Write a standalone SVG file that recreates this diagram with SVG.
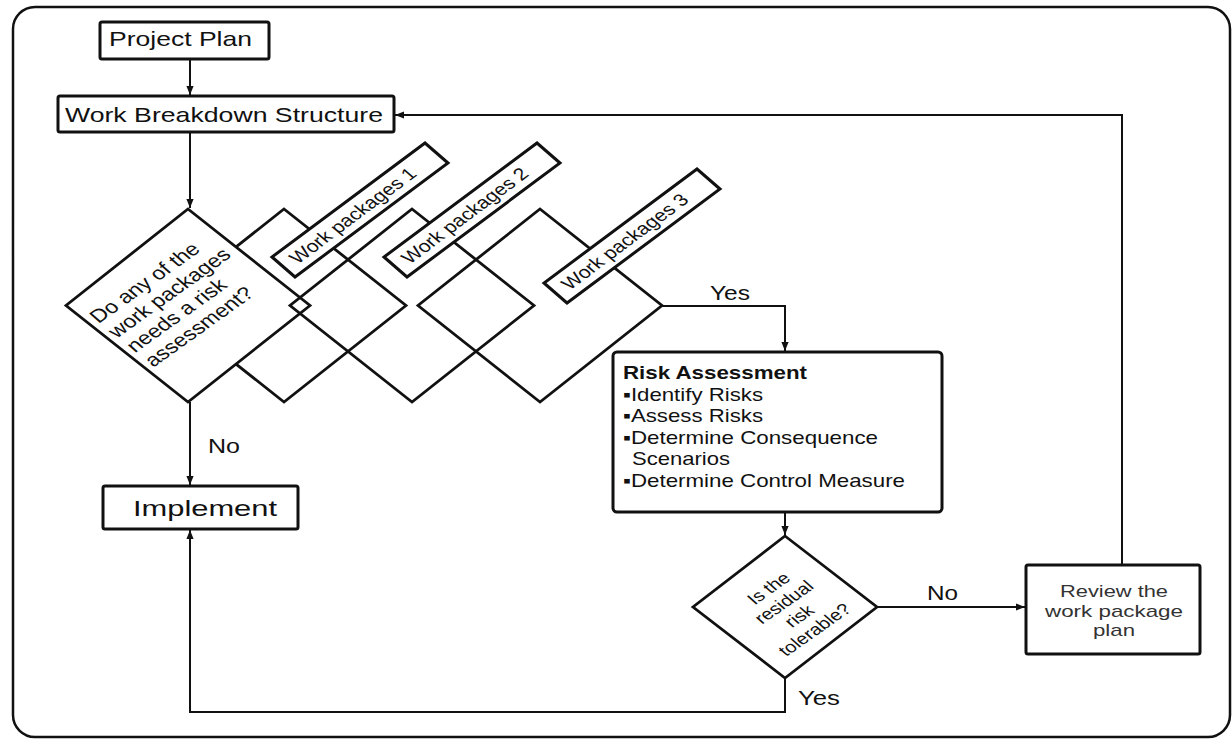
<svg xmlns="http://www.w3.org/2000/svg" width="1232" height="740" viewBox="0 0 1232 740">
<defs>
<style>
.box{fill:#fff;stroke:#111;stroke-width:3}
.dia{fill:#fff;stroke:#111;stroke-width:2.8;stroke-linejoin:miter}
.dia-o{fill:none;stroke:#111;stroke-width:2.8}
.con{fill:none;stroke:#111;stroke-width:2}
.t{font-family:"Liberation Sans",Arial,sans-serif;fill:#111}
.b{font-weight:bold}
.g{fill:#333}
</style>
<marker id="arr" viewBox="0 0 10 10" refX="10" refY="5" markerWidth="9" markerHeight="9" markerUnits="userSpaceOnUse" orient="auto"><path d="M0,1 L10,5 L0,9 z" fill="#111"/></marker>
</defs>
<rect width="1232" height="740" fill="#fff"/>
<rect id="frame" x="13" y="7" width="1217" height="730" rx="22" fill="none" stroke="#111" stroke-width="2.5"/>

<g id="connectors">
<path class="con" d="M190,59 L190,95" marker-end="url(#arr)"/>
<path class="con" d="M190,132 L190,208" marker-end="url(#arr)"/>
<path class="con" d="M190,402 L190,485" marker-end="url(#arr)"/>
<path class="con" d="M662,306 L785,306 L785,351" marker-end="url(#arr)"/>
<path class="con" d="M785,512 L785,535" marker-end="url(#arr)"/>
<path class="con" d="M878,607 L1025,607" marker-end="url(#arr)"/>
<path class="con" d="M785,678 L785,712 L190,712 L190,530" marker-end="url(#arr)"/>
<path class="con" d="M1122,565 L1122,115 L395,115" marker-end="url(#arr)"/>
</g>

<g id="project-plan">
<rect class="box" x="100" y="22" width="169" height="37" rx="2"/>
<text class="t" x="109" y="46" font-size="21" textLength="143" lengthAdjust="spacingAndGlyphs">Project Plan</text>
</g>

<g id="wbs">
<rect class="box" x="58" y="96" width="336" height="36" rx="2"/>
<text class="t" x="65" y="122" font-size="21" textLength="318" lengthAdjust="spacingAndGlyphs">Work Breakdown Structure</text>
</g>

<g id="wp-diamond-1">
<polygon class="dia" points="284,209 406,305.5 284,402 162,305.5"/>
</g>

<g id="decision-wp">
<polygon class="dia" points="188,209 310,305.5 188,402 66,305.5"/>
<g transform="translate(178,309) scale(1.26,1) rotate(-42)">
<text class="t" font-size="18.5" x="-57" y="-31">Do any of the</text>
<text class="t" font-size="18.5" x="-56" y="-10.5">work packages</text>
<text class="t" font-size="18.5" x="-55" y="10">needs a risk</text>
<text class="t" font-size="18.5" x="-54" y="30.5">assessment?</text>
</g>
</g>

<g id="wp-diamond-2">
<polygon class="dia-o" points="412,209 534,305.5 412,402 290,305.5"/>
</g>
<g id="wp-diamond-3">
<polygon class="dia-o" points="540,209 662,305.5 540,402 418,305.5"/>
</g>

<g id="wp1">
<polygon class="box" points="272,257 295,277 448,163 425,143"/>
<g transform="translate(360,210) scale(1.26,1) rotate(-43.2)">
<text class="t" font-size="17" x="-8" y="6" text-anchor="middle">Work packages 1</text>
</g>
</g>
<g id="wp2">
<polygon class="box" points="384,257 407,277 560,163 537,143"/>
<g transform="translate(472,210) scale(1.26,1) rotate(-43.2)">
<text class="t" font-size="17" x="-8" y="6" text-anchor="middle">Work packages 2</text>
</g>
</g>
<g id="wp3">
<polygon class="box" points="544,283 567,303 720,189 697,169"/>
<g transform="translate(632,236) scale(1.26,1) rotate(-43.2)">
<text class="t" font-size="17" x="-8" y="6" text-anchor="middle">Work packages 3</text>
</g>
</g>

<g id="label-yes-1"><text class="t" x="710" y="300" font-size="20" textLength="40" lengthAdjust="spacingAndGlyphs">Yes</text></g>
<g id="label-no-1"><text class="t" x="208" y="453" font-size="21" textLength="32" lengthAdjust="spacingAndGlyphs">No</text></g>

<g id="implement">
<rect class="box" x="103" y="486" width="195" height="43" rx="2"/>
<text class="t" x="133" y="516" font-size="22" textLength="144" lengthAdjust="spacingAndGlyphs">Implement</text>
</g>

<g id="risk-assessment">
<rect class="box" x="613" y="352" width="329" height="160" rx="4"/>
<text class="t b" x="623" y="379" font-size="18.5" textLength="184" lengthAdjust="spacingAndGlyphs">Risk Assessment</text>
<text class="t" x="623" y="401" font-size="18.5" textLength="140" lengthAdjust="spacingAndGlyphs">▪Identify Risks</text>
<text class="t" x="623" y="422" font-size="18.5" textLength="140" lengthAdjust="spacingAndGlyphs">▪Assess Risks</text>
<text class="t" x="623" y="443.5" font-size="18.5" textLength="255" lengthAdjust="spacingAndGlyphs">▪Determine Consequence</text>
<text class="t" x="632" y="465" font-size="18.5" textLength="98" lengthAdjust="spacingAndGlyphs">Scenarios</text>
<text class="t" x="623" y="487" font-size="18.5" textLength="282" lengthAdjust="spacingAndGlyphs">▪Determine Control Measure</text>
</g>

<g id="decision-residual">
<polygon class="dia" points="785,536 877,607 785,678 693,607"/>
<g transform="translate(791.5,609) scale(1.26,1) rotate(-41.5)">
<text class="t" font-size="16" x="0" y="-22" text-anchor="middle">Is the</text>
<text class="t" font-size="16" x="0" y="-3.6" text-anchor="middle">residual</text>
<text class="t" font-size="16" x="0" y="14.8" text-anchor="middle">risk</text>
<text class="t" font-size="16" x="0" y="33.2" text-anchor="middle">tolerable?</text>
</g>
</g>

<g id="label-no-2"><text class="t" x="927" y="600" font-size="21" textLength="31" lengthAdjust="spacingAndGlyphs">No</text></g>
<g id="label-yes-2"><text class="t" x="798" y="705" font-size="20" textLength="42" lengthAdjust="spacingAndGlyphs">Yes</text></g>

<g id="review">
<rect class="box" x="1026" y="565" width="174" height="89" rx="2"/>
<text class="t g" x="1114" y="597" font-size="17" text-anchor="middle" textLength="108" lengthAdjust="spacingAndGlyphs">Review the</text>
<text class="t g" x="1114" y="617" font-size="17" text-anchor="middle" textLength="138" lengthAdjust="spacingAndGlyphs">work package</text>
<text class="t g" x="1114" y="636" font-size="17" text-anchor="middle" textLength="42" lengthAdjust="spacingAndGlyphs">plan</text>
</g>
</svg>
